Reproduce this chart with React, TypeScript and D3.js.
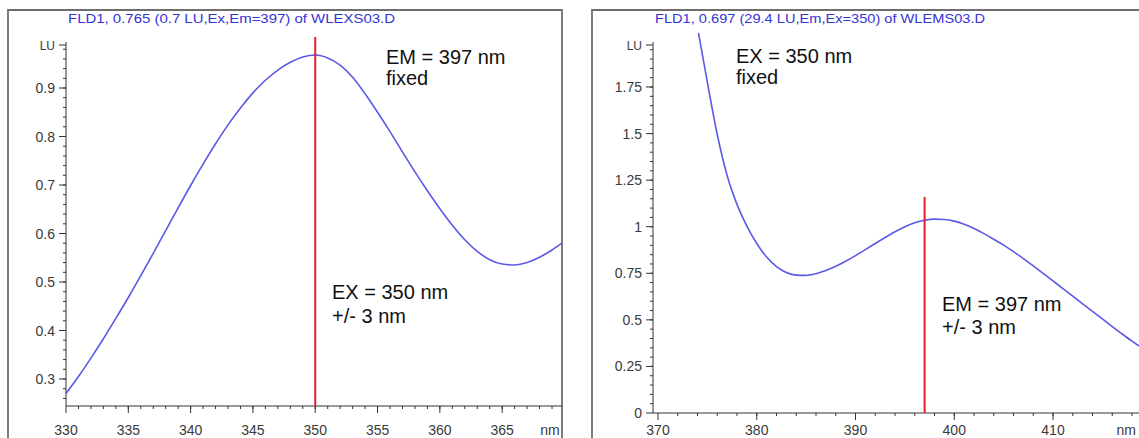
import React from "react";
import * as d3 from "d3";

// ---------- Data ----------
const exTitle = "FLD1, 0.765 (0.7 LU,Ex,Em=397) of WLEXS03.D";
const emTitle = "FLD1, 0.697 (29.4 LU,Em,Ex=350) of WLEMS03.D";

const exWavelength = [330, 331, 332, 333, 334, 335, 336, 337, 338, 339, 340, 341, 342, 343, 344, 345, 346, 347, 348, 349, 350, 351, 352, 353, 354, 355, 356, 357, 358, 359, 360, 361, 362, 363, 364, 365, 366, 367, 368, 369, 369.8];
const exIntensity = [0.27, 0.305, 0.343, 0.383, 0.425, 0.468, 0.513, 0.559, 0.606, 0.653, 0.699, 0.743, 0.785, 0.824, 0.859, 0.89, 0.916, 0.937, 0.953, 0.964, 0.968, 0.962, 0.947, 0.922, 0.888, 0.85, 0.81, 0.768, 0.727, 0.688, 0.651, 0.617, 0.587, 0.563, 0.546, 0.537, 0.535, 0.54, 0.551, 0.566, 0.58];

const emWavelength = [374.1, 375, 376, 377, 378, 379, 380, 381, 382, 383, 384, 385, 386, 387, 388, 389, 390, 391, 392, 393, 394, 395, 396, 397, 398, 399, 400, 401, 402, 403, 404, 405, 406, 407, 408, 409, 410, 411, 412, 413, 414, 415, 416, 417, 418, 418.7];
const emIntensity = [2.04, 1.775, 1.495, 1.275, 1.12, 1.003, 0.91, 0.837, 0.786, 0.754, 0.74, 0.739, 0.748, 0.765, 0.788, 0.815, 0.845, 0.877, 0.91, 0.942, 0.973, 1.0, 1.021, 1.035, 1.041, 1.039, 1.03, 1.013, 0.99, 0.963, 0.933, 0.901, 0.866, 0.829, 0.79, 0.75, 0.709, 0.668, 0.627, 0.586, 0.546, 0.505, 0.464, 0.424, 0.386, 0.36];

const exXTicks = [330, 335, 340, 345, 350, 355, 360, 365];
const exYTicks = [0.3, 0.4, 0.5, 0.6, 0.7, 0.8, 0.9];
const emXTicks = [370, 380, 390, 400, 410];
const emYTicks = [0, 0.25, 0.5, 0.75, 1, 1.25, 1.5, 1.75];
const emYTickLabels = ["0", "0.25", "0.5", "0.75", "1", "1.25", "1.5", "1.75"];

const exMarker = 350;
const emMarker = 397;
const exMarkerRange = [0.244, 1.005];
const emMarkerRange = [0, 1.16];

const exNotes = [["EM = 397 nm", "fixed"], ["EX = 350 nm", "+/- 3 nm"]];
const emNotes = [["EX = 350 nm", "fixed"], ["EM = 397 nm", "+/- 3 nm"]];

// ---------- Styles ----------
const BLUE = "#5a5ae6";
const RED = "#e2202c";
const AXIS = "#333";
const TICKTEXT = "#3a3a3a";
const FRAME = "#6e6e6e";
const TITLE = "#3434d4";
const TICKFONT = "'Liberation Sans', Arial, sans-serif";
const NOTEFONT = "'Liberation Sans Narrow', 'Liberation Sans', Arial, sans-serif";

function range(a: number, b: number, step: number) {
  const out: number[] = [];
  for (let v = a; v <= b + 1e-9; v += step) out.push(Math.round(v * 1000) / 1000);
  return out;
}

export default function App() {
  // Left panel scales
  const xL = d3.scaleLinear().domain([330, 369.8]).range([66, 562]);
  const yL = d3.scaleLinear().domain([0.3, 0.9]).range([379, 88]);
  const yLBottom = 406, yLTop = 42;
  // Right panel scales
  const xR = d3.scaleLinear().domain([370, 410]).range([658, 1053]);
  const yR = d3.scaleLinear().domain([0, 1.75]).range([413, 87]);
  const xRAxis = 653, yRTop = 42;

  const lineL = d3.line<number>().x((_, i) => xL(exWavelength[i])).y((d) => yL(d)).curve(d3.curveMonotoneX);
  const lineR = d3.line<number>().x((_, i) => xR(emWavelength[i])).y((d) => yR(d)).curve(d3.curveMonotoneX);

  const exMinorY = range(0.26, 0.98, 0.02);
  const exMinorX = range(331, 369, 1);
  const emMinorY = range(0.05, 1.95, 0.05);
  const emMinorX = range(372, 418, 2);

  return (
    <svg width={1139} height={438} style={{ position: "absolute", left: 0, top: 0, background: "#fff" }}>
      <rect x={0} y={0} width={1139} height={438} fill="#fff" />
      {/* frames */}
      <path d={`M8,438 V10 H562 V438`} fill="none" stroke={FRAME} strokeWidth={1.8} />
      <path d={`M592,438 V10 H1139`} fill="none" stroke={FRAME} strokeWidth={1.8} />

      {/* titles */}
      <text x={68} y={23} fill={TITLE} fontFamily={TICKFONT} fontSize={13.5} textLength={327} lengthAdjust="spacingAndGlyphs">{exTitle}</text>
      <text x={655} y={23} fill={TITLE} fontFamily={TICKFONT} fontSize={13.5} textLength={330} lengthAdjust="spacingAndGlyphs">{emTitle}</text>

      {/* ---- Left panel axes ---- */}
      <g stroke={AXIS} strokeWidth={1}>
        <line x1={xL(330)} x2={xL(330)} y1={yLTop} y2={yLBottom} />
        <line x1={xL(330)} x2={562} y1={yLBottom} y2={yLBottom} />
        {exMinorY.map((v) => (
          <line key={"lmy" + v} x1={xL(330) - 3} x2={xL(330)} y1={yL(v)} y2={yL(v)} />
        ))}
        {exYTicks.map((v) => (
          <line key={"lMy" + v} x1={xL(330) - 7} x2={xL(330)} y1={yL(v)} y2={yL(v)} />
        ))}
        <line x1={xL(330) - 7} x2={xL(330)} y1={yLTop + 3} y2={yLTop + 3} />
        {exMinorX.map((v) => (
          <line key={"lmx" + v} x1={xL(v)} x2={xL(v)} y1={yLBottom} y2={yLBottom + 3} />
        ))}
        {exXTicks.map((v) => (
          <line key={"lMx" + v} x1={xL(v)} x2={xL(v)} y1={yLBottom} y2={yLBottom + 7} />
        ))}
      </g>
      <g fill={TICKTEXT} fontFamily={TICKFONT} fontSize={14}>
        {exYTicks.map((v) => (
          <text key={"lyl" + v} x={xL(330) - 11} y={yL(v) + 5} textAnchor="end">{v.toFixed(1)}</text>
        ))}
        <text x={xL(330) - 11} y={yLTop + 8} textAnchor="end" fontSize={12}>LU</text>
        {exXTicks.map((v) => (
          <text key={"lxl" + v} x={xL(v)} y={435} textAnchor="middle">{v}</text>
        ))}
        <text x={550} y={435} textAnchor="middle">nm</text>
      </g>

      {/* left curve and marker */}
      <path d={lineL(exIntensity) || ""} fill="none" stroke={BLUE} strokeWidth={1.6} />
      <line x1={xL(exMarker)} x2={xL(exMarker)} y1={yL(exMarkerRange[1])} y2={yLBottom} stroke={RED} strokeWidth={2} />

      <g fill="#111" fontFamily={NOTEFONT} fontSize={20}>
        <text x={386} y={64}>{exNotes[0][0]}</text>
        <text x={386} y={85}>{exNotes[0][1]}</text>
        <text x={332} y={299}>{exNotes[1][0]}</text>
        <text x={332} y={323}>{exNotes[1][1]}</text>
      </g>

      {/* ---- Right panel axes ---- */}
      <g stroke={AXIS} strokeWidth={1}>
        <line x1={xRAxis} x2={xRAxis} y1={yRTop} y2={yR(0)} />
        <line x1={xRAxis} x2={1139} y1={yR(0)} y2={yR(0)} />
        {emMinorY.map((v) => (
          <line key={"rmy" + v} x1={xRAxis - 3} x2={xRAxis} y1={yR(v)} y2={yR(v)} />
        ))}
        {emYTicks.map((v) => (
          <line key={"rMy" + v} x1={xRAxis - 7} x2={xRAxis} y1={yR(v)} y2={yR(v)} />
        ))}
        <line x1={xRAxis - 7} x2={xRAxis} y1={yRTop + 3} y2={yRTop + 3} />
        {emMinorX.map((v) => (
          <line key={"rmx" + v} x1={xR(v)} x2={xR(v)} y1={yR(0)} y2={yR(0) + 3} />
        ))}
        {emXTicks.map((v) => (
          <line key={"rMx" + v} x1={xR(v)} x2={xR(v)} y1={yR(0)} y2={yR(0) + 7} />
        ))}
      </g>
      <g fill={TICKTEXT} fontFamily={TICKFONT} fontSize={14}>
        {emYTicks.map((v, i) => (
          <text key={"ryl" + v} x={xRAxis - 11} y={yR(v) + 5} textAnchor="end">{emYTickLabels[i]}</text>
        ))}
        <text x={xRAxis - 11} y={yRTop + 8} textAnchor="end" fontSize={12}>LU</text>
        {emXTicks.map((v) => (
          <text key={"rxl" + v} x={xR(v)} y={435} textAnchor="middle">{v}</text>
        ))}
        <text x={1136} y={435} textAnchor="end">nm</text>
      </g>

      <path d={lineR(emIntensity) || ""} fill="none" stroke={BLUE} strokeWidth={1.6} />
      <line x1={xR(emMarker)} x2={xR(emMarker)} y1={yR(emMarkerRange[1])} y2={yR(emMarkerRange[0])} stroke={RED} strokeWidth={2} />

      <g fill="#111" fontFamily={NOTEFONT} fontSize={20}>
        <text x={736} y={63}>{emNotes[0][0]}</text>
        <text x={736} y={84}>{emNotes[0][1]}</text>
        <text x={942} y={311}>{emNotes[1][0]}</text>
        <text x={942} y={334}>{emNotes[1][1]}</text>
      </g>
    </svg>
  );
}
